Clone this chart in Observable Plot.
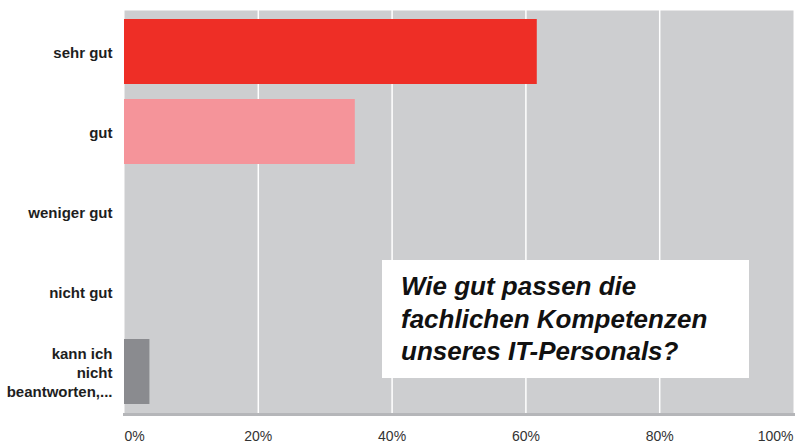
<!DOCTYPE html>
<html>
<head>
<meta charset="utf-8">
<script src="https://cdn.jsdelivr.net/npm/d3@7"></script>
<script src="https://cdn.jsdelivr.net/npm/@observablehq/plot@0.6"></script>
<style>
  html, body { margin: 0; padding: 0; background: #fff; }
  #wrap { position: relative; width: 801px; height: 443px; font-family: "Liberation Sans", Arial, sans-serif; }
  #note {
    position: absolute; left: 382px; top: 260px; width: 367px; height: 118px;
    background: #fff; box-sizing: border-box; padding: 10px 0 0 19px;
    font: italic bold 26px/32.5px "Liberation Sans", Arial, sans-serif; color: #111;
    white-space: nowrap;
  }
</style>
</head>
<body>
<div id="wrap"></div>
<script>
const categories = ["sehr gut", "gut", "weniger gut", "nicht gut", "kann ich\nnicht\nbeantworten,..."];
const values = [61.7, 34.5, 0, 0, 3.8];
const barColors = ["#ee2e26", "#f5949a", "#f5949a", "#f5949a", "#8a8b8f"];
const ticks = [0, 20, 40, 60, 80, 100];
const tickLabels = ["0%", "20%", "40%", "60%", "80%", "100%"];
const title = "Wie gut passen die\nfachlichen Kompetenzen\nunseres IT-Personals?";

const data = categories.map((c, i) => ({category: c, value: values[i]}));
const tickData = ticks.map((t, i) => ({t, label: tickLabels[i]}));

const tickStyle = {x: "t", text: "label", frameAnchor: "bottom", dy: 26, fontSize: 14, fill: "#333"};

const chart = Plot.plot({
  width: 801,
  height: 443,
  marginLeft: 124,
  marginRight: 8,
  marginTop: 10,
  marginBottom: 29,
  style: {fontFamily: "'Liberation Sans', Arial, sans-serif", background: "transparent"},
  x: {domain: [0, 100], axis: null},
  y: {domain: categories, paddingInner: 0.183, paddingOuter: 0.093, axis: null},
  color: {domain: categories, range: barColors},
  marks: [
    Plot.frame({fill: "#cdced0"}),
    Plot.ruleX(ticks.slice(1, -1), {stroke: "#ffffff", strokeWidth: 1.5}),
    Plot.frame({anchor: "bottom", stroke: "#b5b6b9", strokeWidth: 3}),
    Plot.barX(data, {x: "value", y: "category", fill: "category"}),
    Plot.axisY({
      tickSize: 0, tickPadding: 12, fontWeight: "bold", fontSize: 15,
      fill: "#1e1e1e", lineHeight: 1.25, label: null
    }),
    Plot.text(tickData.slice(0, 1), {...tickStyle, textAnchor: "start"}),
    Plot.text(tickData.slice(1, -1), {...tickStyle, textAnchor: "middle"}),
    Plot.text(tickData.slice(-1), {...tickStyle, textAnchor: "end"})
  ]
});
const wrap = document.getElementById("wrap");
wrap.appendChild(chart);
const note = document.createElement("div");
note.id = "note";
note.innerHTML = title.split("\n").join("<br>");
wrap.appendChild(note);
</script>
</body>
</html>
